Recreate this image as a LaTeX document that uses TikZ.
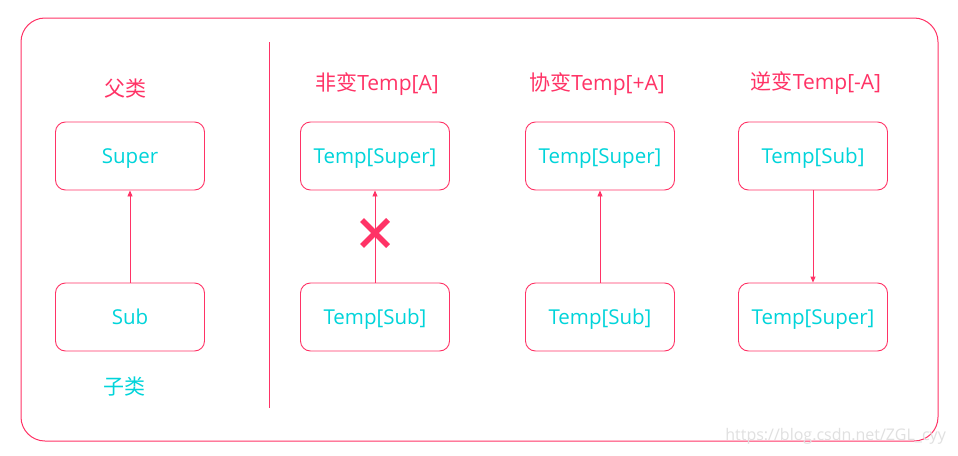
\documentclass[tikz,border=0pt]{standalone}
\usepackage{fontspec}
\setmainfont{Open Sans}
\newfontfamily\cjk{Noto Sans CJK SC}
\usetikzlibrary{arrows.meta,calc}
\definecolor{pk}{RGB}{255,51,102}
\definecolor{cy}{RGB}{0,212,218}
\tikzset{
  box/.style={draw=pk, line width=0.9pt, rounded corners=10pt, minimum width=149pt, minimum height=68pt, inner sep=0pt, text height=18pt, text depth=4pt, text=cy, font=\fontsize{20.5}{20.5}\selectfont},
  ttl/.style={text=pk, font=\fontsize{21}{21}\selectfont, inner sep=0pt},
  con/.style={draw=pk, line width=0.9pt, -{Triangle[length=6pt,width=5pt]}},
}
\begin{document}
\begin{tikzpicture}[x=1pt,y=-1pt]
\useasboundingbox (0,0) rectangle (958,455);
\fill[white] (0,0) rectangle (958,455);
\draw[pk, line width=1pt, rounded corners=24pt] (21,18) rectangle (938,441);
\draw[pk, line width=0.9pt] (269,42) -- (269,408);
% left column
\node[ttl] (tsuper) at (125,89) {\cjk 父类};
\node[box] (super) at (130,156) {Super};
\node[box] (sub) at (130,317) {Sub};
\node[ttl, text=cy] (tsub) at (124,387) {\cjk 子类};
\draw[con] (sub) -- (super);
% invariant
\node[ttl] (t1) at (377,84) {{\cjk 非变}Temp[A]};
\node[box] (a1) at (375,156) {Temp[Super]};
\node[box] (b1) at (375,317) {Temp[Sub]};
\draw[con] (b1) -- (a1);
\coordinate (x) at (375,233);
\draw[pk, line width=5.5pt] ($(x)+(-13,-13)$) -- ($(x)+(13,13)$) ($(x)+(-13,13)$) -- ($(x)+(13,-13)$);
% covariant
\node[ttl] (t2) at (597,84) {{\cjk 协变}Temp[+A]};
\node[box] (a2) at (600,156) {Temp[Super]};
\node[box] (b2) at (600,317) {Temp[Sub]};
\draw[con] (b2) -- (a2);
% contravariant
\node[ttl] (t3) at (816,83) {{\cjk 逆变}Temp[-A]};
\node[box] (a3) at (813,156) {Temp[Sub]};
\node[box] (b3) at (813,317) {Temp[Super]};
\draw[con] (a3) -- (b3);
\node[text=black!12, font=\fontsize{16}{16}\selectfont, inner sep=0pt, anchor=east] (wm) at (946,436) {https://blog.csdn.net/ZGL\_cyy};
\end{tikzpicture}
\end{document}
